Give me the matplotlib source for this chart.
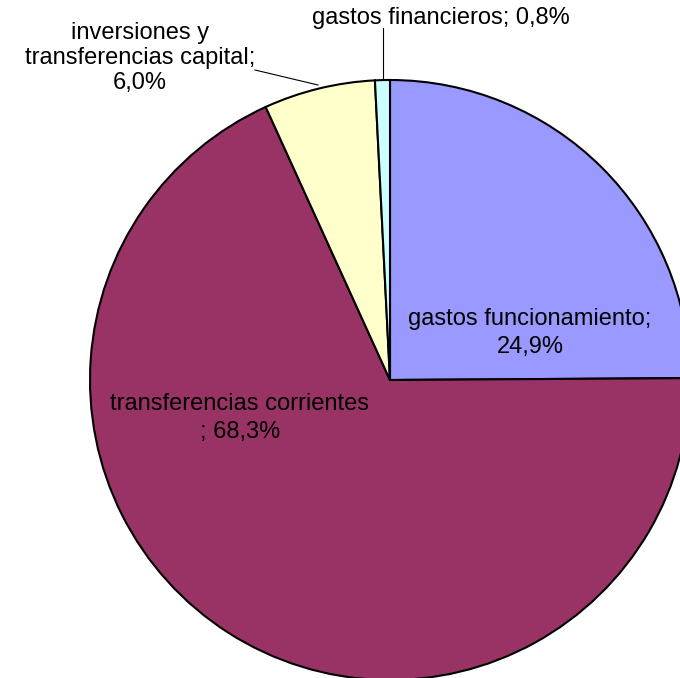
import matplotlib.pyplot as plt

plt.rcParams['font.family'] = ['Liberation Sans', 'DejaVu Sans']

categories = ["gastos funcionamiento", "transferencias corrientes",
              "inversiones y transferencias capital", "gastos financieros"]
shares = [24.9, 68.3, 6.0, 0.8]
colors = ["#9999FF", "#993366", "#FFFFCC", "#CCFFFF"]

fig = plt.figure(figsize=(6.8, 6.78), dpi=100)
ax = fig.add_axes([0, 0, 1, 1])

ax.pie(shares, colors=colors, startangle=90, counterclock=False,
       center=(390, 298), radius=300,
       wedgeprops=dict(edgecolor="black", linewidth=1.5))
# pie resets the limits, so fix the pixel frame afterwards
ax.set_xlim(0, 680)
ax.set_ylim(0, 678)
ax.set_aspect("equal")
ax.axis("off")

def pct(v):
    return f"{v:.1f}%".replace(".", ",")

fs = 17
ax.text(530, 345, f"gastos funcionamiento;\n{pct(shares[0])}", ha="center", va="center",
        fontsize=fs, linespacing=1.3)
ax.text(240, 260, f"transferencias corrientes\n; {pct(shares[1])}", ha="center", va="center",
        fontsize=fs, linespacing=1.3)
ax.text(140, 620, f"inversiones y\ntransferencias capital;\n{pct(shares[2])}", ha="center",
        va="center", fontsize=fs, linespacing=1.15)
ax.text(441, 660, f"gastos financieros; {pct(shares[3])}", ha="center", va="center",
        fontsize=fs)

ax.plot([255, 318], [608, 593], color="black", lw=0.8)
ax.plot([383, 383], [650, 600], color="black", lw=0.8)

fig.savefig("out.png", dpi=100)
